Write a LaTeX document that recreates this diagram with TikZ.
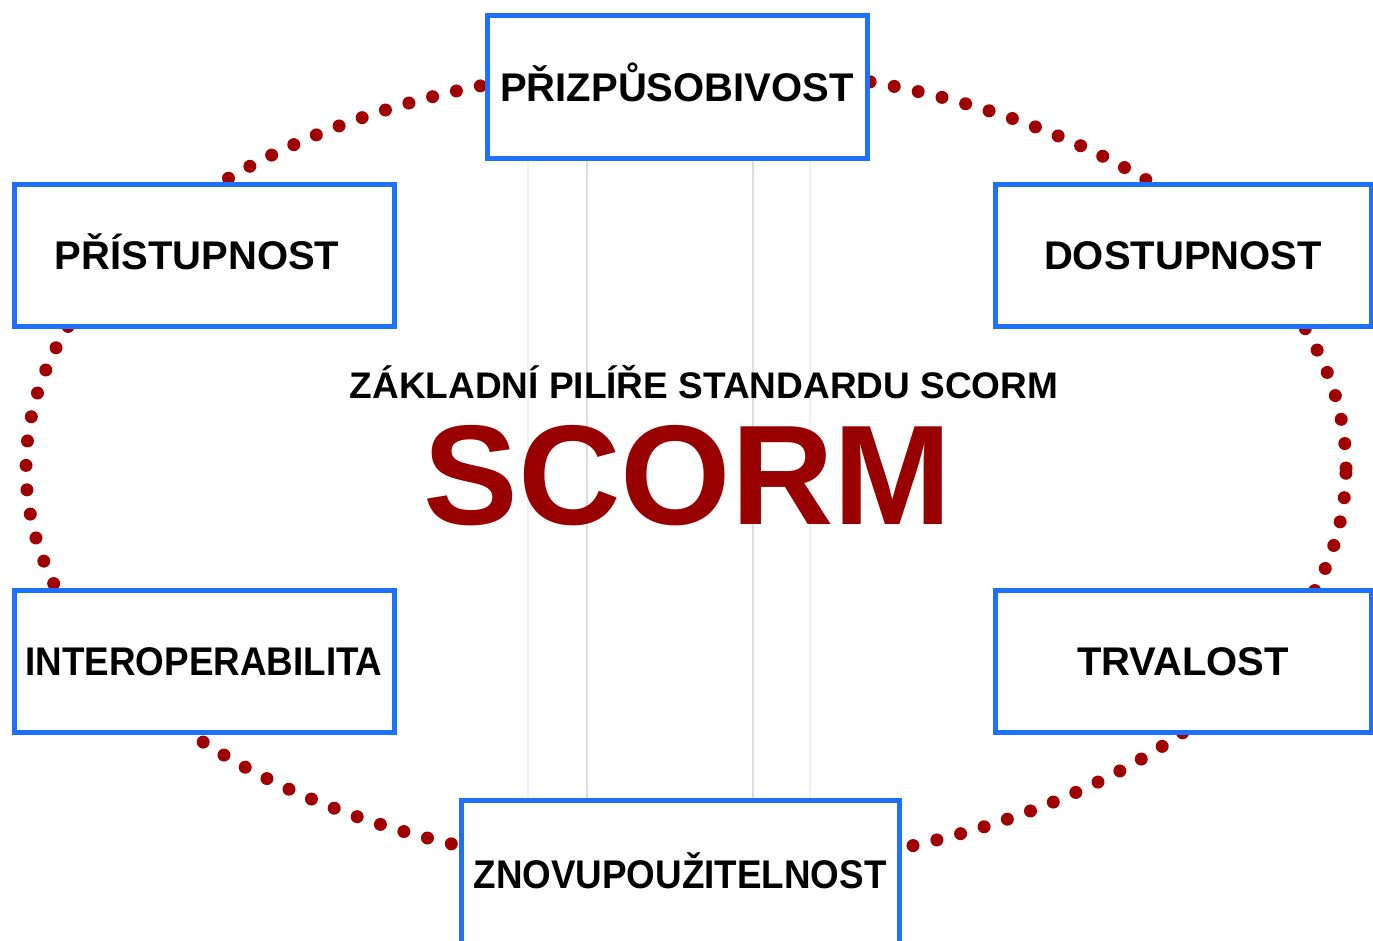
\documentclass[tikz,border=0pt]{standalone}
\usepackage{fontspec}
\setmainfont{Liberation Sans}
\definecolor{boxblue}{RGB}{30,112,255}
\definecolor{dotred}{RGB}{160,0,0}
\definecolor{scormred}{RGB}{153,0,0}
\definecolor{faintgray}{RGB}{240,240,240}
\definecolor{lightgray2}{RGB}{220,220,220}
\begin{document}
\begin{tikzpicture}[x=1pt,y=-1pt,
  pillar/.style={draw=boxblue, line width=5pt, fill=white, rectangle, inner sep=0pt,
    text height=29pt, text depth=0pt,
    font=\fontsize{40}{40}\selectfont\bfseries, text=black},
  sidebox/.style={pillar, minimum width=380pt, minimum height=142pt},
  rightbox/.style={pillar, minimum width=376pt, minimum height=142pt},
  dotring/.style={draw=dotred, line width=13pt, line cap=round, dash pattern=on 0pt off 24.5pt},
  gridfaint/.style={draw=faintgray, line width=2pt},
  gridlight/.style={draw=lightgray2, line width=2pt}]
\useasboundingbox (0,0) rectangle (1373,940);
\fill[white] (0,0) rectangle (1373,940);
% faint vertical lines
\coordinate (g1t) at (528,158); \coordinate (g1b) at (528,800);
\coordinate (g2t) at (587,158); \coordinate (g2b) at (587,800);
\coordinate (g3t) at (753,158); \coordinate (g3b) at (753,800);
\coordinate (g4t) at (810,158); \coordinate (g4b) at (810,800);
\draw[gridfaint] (g1t) -- (g1b);
\draw[gridlight] (g2t) -- (g2b);
\draw[gridlight] (g3t) -- (g3b);
\draw[gridfaint] (g4t) -- (g4b);
% dotted ring
\coordinate (ringc) at (686,468);
\draw[dotring] (ringc) ellipse [x radius=660pt, y radius=402pt];
% boxes
\node[pillar, minimum width=380pt, minimum height=143pt] (prizp) at (677,86.5) {PŘIZPŮSOBIVOST};
\node[sidebox] (prist) at (204,255) {\hspace*{-14pt}PŘÍSTUPNOST};
\node[rightbox] (dost) at (1183,255) {DOSTUPNOST};
\node[sidebox] (inter) at (204,661) {\scalebox{0.92}[1]{INTEROPERABILITA}};
\node[rightbox] (trv) at (1183,661) {TRVALOST};
\node[pillar, minimum width=438pt, minimum height=148pt] (znovu) at (680,874) {\scalebox{0.92}[1]{ZNOVUPOUŽITELNOST}};
% center texts
\node[font=\fontsize{37}{37}\selectfont\bfseries, text=black, inner sep=0pt, anchor=base] (title) at (704,398) {ZÁKLADNÍ PILÍŘE STANDARDU SCORM};
\node[font=\fontsize{142}{142}\selectfont\bfseries, text=scormred, inner sep=0pt, anchor=base] (scorm) at (688,524) {SCORM};
\end{tikzpicture}
\end{document}
